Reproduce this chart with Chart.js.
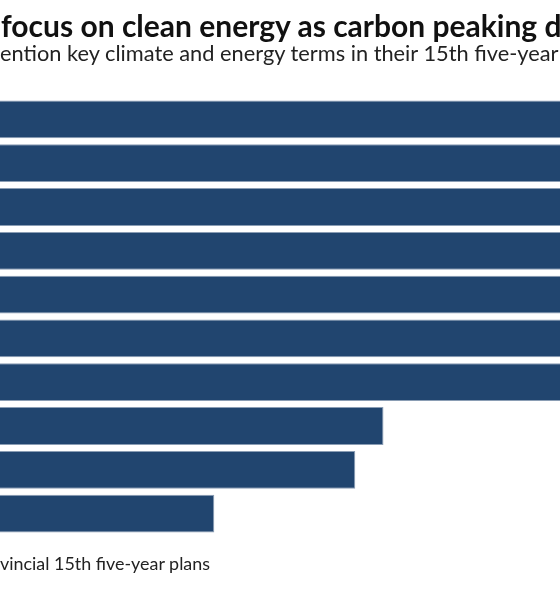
<!DOCTYPE html>
<html>
<head>
<meta charset="utf-8">
<script src="https://cdn.jsdelivr.net/npm/chart.js@4"></script>
<style>
  html, body { margin: 0; padding: 0; background: #fff; }
  #wrap { position: relative; width: 560px; height: 600px; overflow: hidden; }
  #buChart { position: absolute; left: 0; top: 0; }
  .txt { position: absolute; left: 0; white-space: nowrap; color: #111; font-family: Lato, "Noto Sans", sans-serif; line-height: normal; }
  #title { top: 7px; left: 1px; font-size: 30px; font-weight: 700; }
  #subtitle { top: 39px; font-size: 21.8px; color: #222; }
  #source { top: 552px; font-size: 17.9px; color: #222; }
</style>
</head>
<body>
<div id="wrap">
  <canvas id="buChart" width="560" height="600"></canvas>
  <div class="txt" id="title">focus on clean energy as carbon peaking d</div>
  <div class="txt" id="subtitle">ention key climate and energy terms in their 15th five-year</div>
  <div class="txt" id="source">vincial 15th five-year plans</div>
</div>
<script>
// Balken von oben nach unten (Beschriftungen im Ausschnitt nicht sichtbar)
const terms = ['1', '2', '3', '4', '5', '6', '7', '8', '9', '10'];
const provinces = [31, 30, 29, 28, 27, 25, 23, 14, 13, 8];

const ctx = document.getElementById('buChart');

new Chart(ctx, {
    type: 'bar',
    data: {
        labels: terms,
        datasets: [{
            label: 'Provinzen',
            data: provinces,
            backgroundColor: '#21456f',
            borderColor: '#8a9db4',
            borderWidth: 1,
            barPercentage: 0.863,
            categoryPercentage: 1
        }]
    },
    options: {
        indexAxis: 'y',
        responsive: false,
        animation: false,
        layout: {
            padding: { top: 97.5, bottom: 64.5, left: 0, right: 0 }
        },
        plugins: {
            legend: { display: false },
            tooltip: { enabled: false }
        },
        scales: {
            x: { display: false, min: 0.4, max: 20.26 },
            y: { display: false }
        }
    }
});
</script>
</body>
</html>
